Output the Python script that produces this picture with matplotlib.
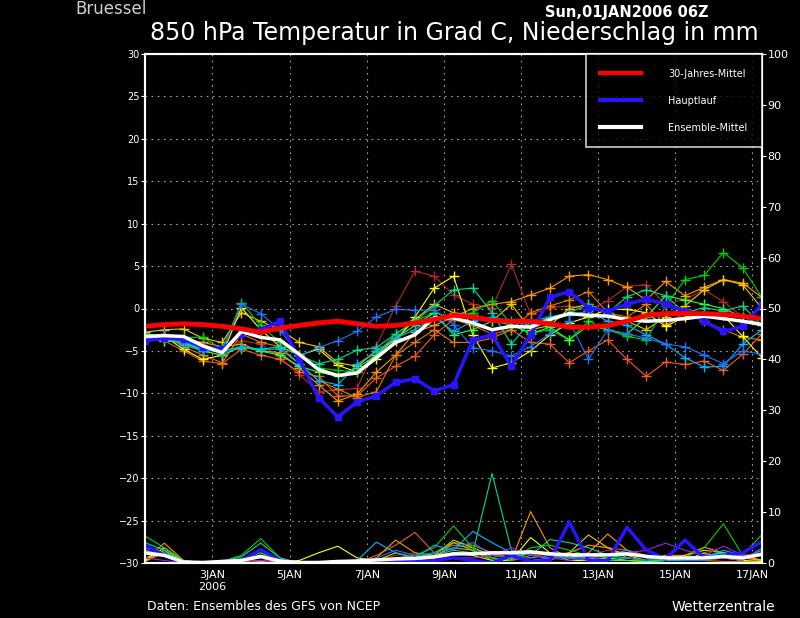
import numpy as np
import matplotlib
matplotlib.use('Agg')
from matplotlib import pyplot as plt

# forecast hours, 12-hourly from Sun 01JAN2006 06Z
hours = list(range(0, 385, 12))

tick_hours = [42, 90, 138, 186, 234, 282, 330, 378]
tick_labels = ['3JAN\n2006', '5JAN', '7JAN', '9JAN', '11JAN', '13JAN', '15JAN', '17JAN']

# 850 hPa temperature (deg C)
clim_t = [-2.1, -1.9, -1.8, -1.9, -2.1, -2.4, -2.8, -2.3, -2.0, -1.7, -1.5, -1.8, -2.1, -2.0, -1.7, -1.3,
          -0.8, -1.0, -1.4, -1.5, -1.5, -1.8, -2.2, -2.2, -2.0, -1.5, -0.8, -0.6, -0.6, -0.6, -0.7, -0.9, -1.2]
main_t = [-3.8, -3.5, -3.6, -4.5, -4.8, -3.0, -2.5, -1.5, -6.0, -10.5, -12.8, -11.0, -10.3, -8.7, -8.3, -9.7,
          -9.0, -3.7, -3.1, -6.8, -3.1, 1.3, 2.0, 0.1, -0.3, 0.5, 1.1, 0.5, -0.3, -1.5, -2.7, -2.1, 0.5]
mean_t = [-3.3, -3.2, -3.3, -4.4, -5.2, -2.7, -3.4, -3.7, -5.4, -7.2, -7.9, -7.6, -5.8, -4.0, -3.1, -1.1,
          -1.1, -1.7, -2.5, -2.1, -2.2, -1.3, -0.6, -0.8, -0.9, -1.3, -1.5, -1.4, -1.2, -0.9, -1.2, -1.5, -1.9]

member_colors = ['#b42828', '#f05a1e', '#ff9600', '#e67800', '#ffff00', '#f0c800',
                 '#00d200', '#32ff32', '#00dc8c', '#00b4ff', '#1e78ff']
member_t = [
    [-3.5, -3.6, -4.2, -5.0, -5.5, -3.8, -4.2, -5.8, -7.8, -9.8, -9.6, -9.4, -4.4, 0.3, 4.4, 3.8,
     1.6, 0.5, 0.1, 5.2, -0.7, 0.1, 0.3, -0.2, 0.9, 2.6, 2.8, 0.5, 1.1, 2.2, 0.8, -1.0, -1.8],
    [-3.3, -3.8, -5.0, -6.2, -6.5, -4.8, -5.5, -6.0, -7.5, -8.0, -10.3, -10.3, -8.2, -6.8, -5.6, -3.1,
     -1.3, -2.0, -3.0, -2.5, -4.0, -4.2, -6.4, -5.0, -3.7, -6.0, -8.0, -6.3, -6.6, -6.2, -7.3, -5.4, -3.0],
    [-3.0, -3.3, -3.6, -4.0, -4.5, -4.2, -5.0, -5.2, -7.0, -9.0, -10.9, -10.1, -7.5, -5.5, -2.8, -2.0,
     -1.0, 0.0, 0.5, 0.8, 1.6, 2.4, 3.8, 4.0, 3.4, 2.5, 1.0, 3.2, 1.5, 2.5, 3.4, 3.0, 1.3],
    [-3.6, -3.2, -4.5, -5.5, -6.4, -3.0, -4.0, -4.5, -6.5, -8.5, -9.5, -10.5, -9.8, -5.5, -4.0, -2.5,
     -4.0, -4.0, -3.5, -2.5, -0.5, 0.3, 1.0, 2.0, -0.5, -1.0, 0.5, -2.0, -0.5, -1.5, -2.5, -3.4, -3.7],
    [-3.2, -3.3, -4.8, -6.0, -5.5, 0.1, -2.5, -4.5, -5.5, -4.8, -6.7, -7.5, -6.0, -3.8, -1.0, 2.4,
     3.8, -3.1, -7.0, -6.4, -5.0, -3.1, -1.7, -1.0, -0.1, -0.1, -0.5, -2.1, -1.0, -0.5, -0.8, -3.3, -5.8],
    [-2.8, -2.5, -2.4, -3.5, -4.0, -0.5, -1.5, -2.5, -4.0, -4.5, -6.4, -6.8, -5.0, -3.7, -1.3, 0.5,
     -0.5, -0.8, -1.5, 0.5, -2.5, -2.0, 0.0, 0.5, -0.5, -1.5, -2.5, -1.0, 0.3, 2.2, 3.4, 2.8, 0.0],
    [-3.0, -3.2, -3.4, -3.4, -4.8, 0.7, -2.0, -4.0, -5.5, -7.0, -7.3, -7.5, -5.5, -3.0, -1.5, -0.5,
     -1.0, -0.5, 0.9, -1.9, -2.9, -2.5, -3.7, -1.5, -2.5, -3.3, -3.7, 0.3, 3.4, 3.9, 6.6, 4.8, 1.3],
    [-3.5, -3.8, -4.0, -5.0, -5.5, -4.5, -5.0, -5.5, -6.8, -7.5, -8.0, -7.0, -5.5, -3.5, -2.0, -0.5,
     -3.1, -2.5, -1.5, -1.9, -3.0, -2.2, -3.7, -2.0, -2.5, -3.0, -1.0, 1.5, 1.0, 0.5, 0.0, -1.0, -2.0],
    [-3.0, -3.5, -4.0, -4.8, -5.0, -4.6, -4.8, -4.5, -5.5, -6.5, -6.0, -4.9, -4.6, -3.0, -1.5, 0.3,
     2.2, 2.4, -0.5, -4.2, -1.5, -1.0, -0.5, 0.5, -0.5, 1.4, 2.2, 1.5, -0.5, 0.1, -0.3, 0.3, -2.0],
    [-3.5, -3.4, -4.3, -5.0, -5.0, -4.5, -4.8, -4.8, -6.5, -8.5, -9.0, -6.6, -5.0, -3.5, -2.5, -1.0,
     -2.7, -1.5, -1.0, -1.5, -2.0, -1.0, -0.8, -0.3, -1.5, -2.0, -3.1, -4.2, -5.8, -6.9, -6.8, -4.2, -2.5],
    [-3.3, -3.0, -3.8, -4.8, -5.0, 0.5, -0.6, -2.5, -5.6, -4.6, -3.8, -2.7, -1.0, -0.1, -0.2, -0.2,
     -1.9, -4.6, -5.0, -5.6, -4.5, -3.0, -1.5, -6.0, -2.5, -3.0, -3.5, -4.2, -4.5, -5.5, -6.5, -5.0, -5.4],
]

# precipitation (mm)
main_p = [3.5, 1.5, 0, 0, 0.3, 0.5, 2.6, 0.5, 0, 0, 0, 0, 0, 0.2, 0.3, 0.5,
          1.0, 0.5, 0, 1.5, 0.2, 0.5, 8.1, 0.5, 0.5, 7.0, 2.5, 0.8, 4.5, 1.0, 1.5, 2.0, 4.2]
mean_p = [2.0, 1.5, 0.2, 0.1, 0.3, 0.5, 1.3, 0.4, 0.1, 0.1, 0.3, 0.4, 0.6, 0.8, 0.9, 1.2,
          1.8, 1.8, 2.0, 2.0, 2.2, 1.8, 1.6, 1.6, 1.6, 1.8, 1.3, 1.0, 1.0, 1.0, 1.3, 1.0, 1.7]
member_p = [
    [2.5, 3.0, 0.5, 0, 0, 0, 0.5, 0, 0, 0, 0, 0, 0.5, 1.5, 2.0, 1.0, 1.5, 2.0, 1.0, 0.5, 1.0, 2.0, 1.0, 1.5, 2.5, 2.0, 1.0, 0.5, 1.0, 0.5, 1.0, 1.5, 0.5],
    [1.0, 2.5, 0, 0, 0, 0, 0.3, 0, 0, 0, 0, 0, 1.5, 3.5, 6.0, 2.0, 3.5, 3.0, 1.0, 0.5, 1.5, 1.0, 2.0, 3.5, 3.0, 2.5, 1.5, 1.0, 0.5, 0.5, 1.5, 1.0, 0.5],
    [0.5, 3.9, 0.5, 0, 0, 0.5, 1.0, 0, 0, 0, 0, 0, 1.0, 4.5, 2.0, 1.5, 3.0, 2.5, 1.0, 0.5, 10.1, 3.0, 1.0, 2.0, 5.7, 2.5, 1.0, 1.5, 1.5, 3.1, 2.0, 1.0, 0.5],
    [0.3, 2.0, 0, 0, 0.5, 0.3, 0.5, 0, 0, 0, 0, 0, 0.5, 1.0, 1.5, 1.0, 4.0, 3.5, 2.0, 1.0, 2.0, 0.5, 2.0, 3.5, 3.0, 1.0, 0.5, 1.0, 0.5, 0.5, 0.3, 0.3, 0.2],
    [0.5, 3.0, 0.3, 0, 0, 0, 0.2, 0.3, 0.5, 2.0, 3.3, 1.0, 0.5, 0.5, 0.5, 1.0, 2.0, 1.5, 0.5, 0.5, 5.0, 2.0, 0.5, 0.5, 1.0, 0.5, 0.3, 0.5, 0.5, 2.0, 1.0, 0.5, 0.3],
    [0.3, 2.5, 0, 0, 0, 0, 0.3, 0, 0, 0, 0.5, 0, 0.5, 2.0, 1.0, 1.5, 4.5, 3.0, 1.5, 1.0, 2.0, 1.5, 2.0, 5.5, 3.0, 1.5, 0.5, 0.5, 1.5, 2.5, 2.0, 1.5, 0.5],
    [5.3, 3.0, 0.5, 0, 0.3, 1.5, 4.8, 1.0, 0, 0, 0, 0, 0, 0.5, 1.5, 3.0, 7.3, 3.0, 1.0, 0.5, 3.0, 3.5, 2.5, 1.5, 1.0, 1.0, 0.5, 0.5, 1.0, 3.0, 7.7, 1.5, 5.6],
    [3.0, 2.0, 0.3, 0, 0.2, 0.8, 2.0, 0.5, 0, 0, 0, 0, 0, 0.3, 1.0, 2.0, 4.0, 2.5, 0.5, 1.0, 2.0, 2.0, 1.5, 1.0, 0.5, 0.5, 0.3, 0.5, 0.5, 1.0, 2.0, 1.0, 2.0],
    [4.0, 2.5, 0.3, 0, 0.3, 1.2, 3.9, 1.0, 0, 0, 0, 0, 0, 0.5, 1.0, 1.5, 2.5, 2.0, 17.6, 2.5, 1.5, 4.6, 4.0, 3.0, 1.5, 1.0, 0.5, 0.5, 1.0, 1.5, 2.0, 1.0, 2.5],
    [2.5, 1.5, 0, 0, 0.2, 0.5, 1.5, 0.5, 0, 0, 0, 0.5, 4.1, 2.0, 1.0, 3.5, 2.5, 6.2, 4.0, 2.0, 1.0, 1.5, 1.0, 1.0, 1.5, 2.5, 1.0, 0.5, 0.5, 1.0, 2.5, 1.5, 1.5],
    [3.0, 2.0, 0, 0, 0.3, 0.5, 1.0, 0.3, 0, 0, 0, 0, 1.0, 2.5, 1.5, 2.0, 3.0, 4.0, 1.5, 1.0, 0.5, 1.0, 1.0, 0.5, 0.5, 1.0, 0.5, 1.0, 0.5, 0.5, 1.0, 0.5, 3.0],
]
purple_p = [1.0, 0.5, 0, 0, 0, 0, 0.5, 0, 0, 0, 0, 0, 0, 0.3, 0.5, 0.5, 1.0, 1.0, 1.5, 3.0, 1.5, 1.0, 0.5, 1.0, 1.5, 2.0, 2.5, 3.9, 2.5, 1.5, 3.3, 1.5, 2.0]

fig = plt.figure(figsize=(8, 6.18), dpi=100, facecolor='black')
ax = fig.add_axes([145/800, 1 - 563/618, 617/800, 509/618])
ax.set_facecolor('black')
ax2 = ax.twinx()

for c, t in zip(member_colors, member_t):
    ax.plot(hours, t, color=c, lw=0.8, marker='+', ms=7, mew=1, zorder=3)
ax.plot(hours, main_t, color='#2814ff', lw=2.5, marker='s', ms=5, zorder=4, label='Hauptlauf')
ax.plot(hours, mean_t, color='white', lw=2.5, zorder=5, label='Ensemble-Mittel')
ax.plot(hours, clim_t, color='#ff0000', lw=3.5, zorder=6, label='30-Jahres-Mittel')

for c, p in zip(member_colors, member_p):
    ax2.plot(hours, p, color=c, lw=0.8)
ax2.plot(hours, purple_p, color='#a020f0', lw=0.8)
ax2.plot(hours, main_p, color='#2814ff', lw=2.5)
ax2.plot(hours, mean_p, color='white', lw=2.5)

ax.set_xlim(0, 384)
ax.set_ylim(-30, 30)
ax2.set_ylim(0, 100)
ax.set_yticks(range(-30, 31, 5))
ax2.set_yticks(range(0, 101, 10))
ax.set_xticks(tick_hours)
ax.set_xticklabels(tick_labels)
ax.grid(True, color='#a0a0a0', ls=(0, (1.5, 4)), lw=0.8)
ax.tick_params(axis='x', length=0, colors='white', labelsize=8, pad=5)
ax.tick_params(axis='y', length=3, colors='white', labelsize=7, pad=1)
ax2.tick_params(axis='y', length=3, colors='white', labelsize=8, pad=1)
for a in (ax, ax2):
    for s in a.spines.values():
        s.set_color('white')
        s.set_linewidth(1.5)

h, l = ax.get_legend_handles_labels()
order = [2, 0, 1]
leg = ax2.legend([h[i] for i in order], [l[i] for i in order], loc='upper right',
                 fontsize=7, frameon=True, fancybox=False, borderaxespad=0,
                 handlelength=4.2, handletextpad=2.8, labelspacing=1.75, borderpad=1.5)
leg.get_frame().set_facecolor('black')
leg.get_frame().set_edgecolor('white')
leg.get_frame().set_linewidth(1.2)
for txt in leg.get_texts():
    txt.set_color('white')
for ln in leg.get_lines():
    ln.set_marker('')
    ln.set_linewidth(3)

fig.text(75/800, 1 - 9/618, 'Bruessel', color='#d0d0d0', fontsize=12, va='center', ha='left')
fig.text(545/800, 1 - 13/618, 'Sun,01JAN2006 06Z', color='white', fontsize=10.5,
         fontweight='bold', va='center', ha='left')
fig.text(454/800, 1 - 33/618, '850 hPa Temperatur in Grad C, Niederschlag in mm', color='white',
         fontsize=17, va='center', ha='center')
fig.text(147/800, 1 - 607/618, 'Daten: Ensembles des GFS von NCEP', color='white', fontsize=9,
         va='center', ha='left')
fig.text(775/800, 1 - 607/618, 'Wetterzentrale', color='white', fontsize=10, va='center', ha='right')

fig.savefig('out.png', dpi=100, facecolor='black')
